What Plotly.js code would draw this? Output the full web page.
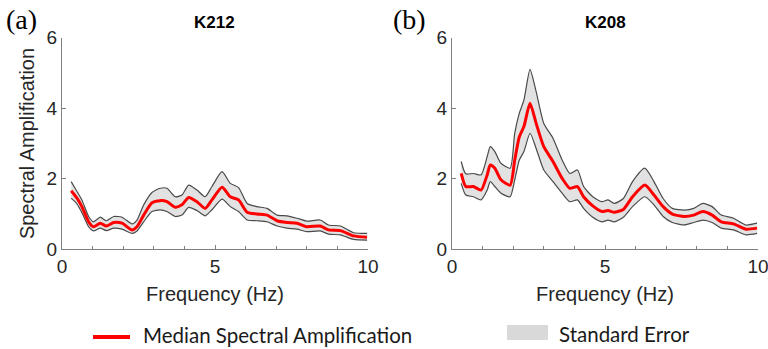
<!DOCTYPE html>
<html>
<head>
<meta charset="utf-8">
<script src="https://cdn.plot.ly/plotly-3.0.1.min.js"></script>
<style>
html,body{margin:0;padding:0;background:#fff;}
#chart{width:768px;height:349px;}
</style>
</head>
<body>
<div id="chart"></div>
<script>
// Panel (a) K212
const freqA  = [0.3,0.49,0.65,0.87,1.03,1.25,1.45,1.69,1.96,2.29,2.45,2.67,2.94,3.21,3.43,3.7,3.92,4.14,4.41,4.68,4.9,5.23,5.5,5.77,6.05,6.37,6.7,7.03,7.35,7.68,8.0,8.44,8.71,9.1,9.53,9.97];
const medA   = [1.66,1.45,1.21,0.78,0.64,0.74,0.66,0.76,0.74,0.55,0.64,0.97,1.32,1.38,1.35,1.19,1.26,1.47,1.35,1.16,1.40,1.76,1.49,1.40,1.05,1.00,0.97,0.81,0.76,0.74,0.64,0.66,0.55,0.53,0.38,0.34];
const upA    = [1.92,1.64,1.40,0.93,0.78,0.91,0.81,0.93,0.91,0.72,0.83,1.26,1.61,1.73,1.73,1.49,1.54,1.82,1.68,1.49,1.78,2.20,1.87,1.75,1.30,1.21,1.16,0.97,0.95,0.88,0.80,0.83,0.69,0.66,0.47,0.45];
const loA    = [1.45,1.29,1.04,0.64,0.52,0.60,0.53,0.60,0.57,0.45,0.52,0.78,1.07,1.12,1.07,0.93,0.97,1.19,1.10,0.95,1.12,1.42,1.21,1.07,0.83,0.81,0.78,0.66,0.60,0.57,0.50,0.52,0.43,0.41,0.28,0.26];
// Panel (b) K208
const freqB  = [0.3,0.45,0.7,0.95,1.15,1.25,1.4,1.6,1.9,2.05,2.2,2.35,2.55,2.75,3.0,3.3,3.6,3.85,4.1,4.3,4.6,4.9,5.1,5.3,5.6,5.9,6.3,6.6,6.9,7.2,7.6,7.9,8.2,8.5,8.8,9.2,9.6,9.97];
const medB   = [2.15,1.78,1.78,1.68,2.11,2.39,2.30,1.97,1.82,2.53,3.19,3.48,4.14,3.57,2.91,2.49,2.01,1.73,1.78,1.49,1.23,1.07,1.10,1.05,1.13,1.49,1.82,1.54,1.21,1.00,0.93,0.97,1.07,0.97,0.78,0.72,0.57,0.60];
const upB    = [2.49,2.14,2.15,2.11,2.63,2.91,2.77,2.44,2.30,3.29,3.86,4.23,5.10,4.47,3.57,3.15,2.53,2.15,2.25,1.78,1.49,1.35,1.40,1.30,1.44,1.92,2.30,1.92,1.44,1.16,1.11,1.16,1.30,1.21,0.97,0.88,0.69,0.74];
const loB    = [1.87,1.54,1.49,1.40,1.68,1.92,1.78,1.59,1.49,1.97,2.53,2.77,3.29,2.86,2.25,1.92,1.59,1.35,1.40,1.16,0.91,0.78,0.83,0.78,0.91,1.21,1.49,1.26,0.93,0.76,0.69,0.76,0.83,0.76,0.60,0.55,0.41,0.45];

const panelTitles = ["K212","K208"];
const panelLetters = ["(a)","(b)"];
const legendLabels = ["Median Spectral Amplification","Standard Error"];
const xTickVals = [0,5,10];
const yTickVals = [0,2,4,6];

const bandLine = {color:'#4a4a4a', width:1.2, shape:'spline', smoothing:0.6};
const fillCol = '#e2e2e2';
const red = '#ff0000';

function panel(f, lo, up, med, xa, ya){
  return [
    {x:f, y:lo, xaxis:xa, yaxis:ya, mode:'lines', line:bandLine, hoverinfo:'skip', showlegend:false},
    {x:f, y:up, xaxis:xa, yaxis:ya, mode:'lines', line:bandLine, fill:'tonexty', fillcolor:fillCol, hoverinfo:'skip', showlegend:false},
    {x:f, y:med, xaxis:xa, yaxis:ya, mode:'lines', line:{color:red, width:3, shape:'spline', smoothing:0.6}, showlegend:false}
  ];
}

const data = [...panel(freqA, loA, upA, medA, 'x', 'y'), ...panel(freqB, loB, upB, medB, 'x2', 'y2')];

const H = 349, W = 768;
const py = v => 1 - v/H;
const px = v => v/W;
const sans = 'Liberation Sans, Arial, sans-serif';
const axFont = {family:sans, size:19, color:'#262626'};
const ydom = [py(249.3), py(37.7)];

function xaxis(dom){
  return {domain:dom, range:[0,10], tickvals:xTickVals, ticks:'inside', ticklen:4, tickcolor:'#808080',
    showline:true, linecolor:'#808080', linewidth:1, showgrid:false, zeroline:false, tickfont:axFont,
    ticklabeloverflow:'allow',
    minor:{dtick:1, tick0:0, ticks:'inside', ticklen:3, tickcolor:'#808080', showgrid:false},
    title:{text:'Frequency (Hz)', font:{family:sans, size:20, color:'#262626'}, standoff:10},
    fixedrange:true};
}
function yaxis(dom, anchor, title){
  const a = {domain:dom, range:[0,6], tickvals:yTickVals, ticks:'inside', ticklen:4, tickcolor:'#808080', anchor:anchor,
    showline:true, linecolor:'#808080', linewidth:1, showgrid:false, zeroline:false, tickfont:axFont, fixedrange:true,
    ticklabeloverflow:'allow'};
  if(title) a.title = {text:title, font:{family:sans, size:20, color:'#262626'}, standoff:6};
  return a;
}

function ann(text, x, y, xanchor, font){
  return {text:text, xref:'paper', yref:'paper', x:px(x), y:py(y), xanchor:xanchor, yanchor:'middle', showarrow:false, font:font};
}

const titleFont = {family:sans, size:17, color:'#000'};
const letterFont = {family:'Liberation Serif, Times New Roman, serif', size:28, color:'#000'};
const legFont = {family:'Lato, sans-serif', size:20.5, color:'#1a1a1a'};

const layout = {
  width:W, height:H, margin:{l:0,r:0,t:0,b:0}, paper_bgcolor:'#fff', plot_bgcolor:'#fff', showlegend:false,
  xaxis: xaxis([px(62), px(368)]),
  yaxis: yaxis(ydom, 'x', 'Spectral Amplification'),
  xaxis2: Object.assign(xaxis([px(452), px(758)]), {anchor:'y2'}),
  yaxis2: yaxis(ydom, 'x2', null),
  annotations:[
    ann('<b>'+panelTitles[0]+'</b>', 214, 23, 'center', titleFont),
    ann('<b>'+panelTitles[1]+'</b>', 605, 23, 'center', titleFont),
    ann(panelLetters[0], 4, 19, 'left', letterFont),
    ann(panelLetters[1], 391, 19, 'left', letterFont),
    ann(legendLabels[0], 141, 335, 'left', legFont),
    ann(legendLabels[1], 557, 334, 'left', legFont)
  ],
  shapes:[
    {type:'line', xref:'paper', yref:'paper', x0:px(93), x1:px(130), y0:py(337), y1:py(337), line:{color:red, width:4}},
    {type:'rect', xref:'paper', yref:'paper', x0:px(507), x1:px(548), y0:py(340), y1:py(325), fillcolor:'#d9d9d9', line:{width:0}}
  ]
};

Plotly.newPlot('chart', data, layout, {displayModeBar:false, staticPlot:true});
</script>
</body>
</html>
